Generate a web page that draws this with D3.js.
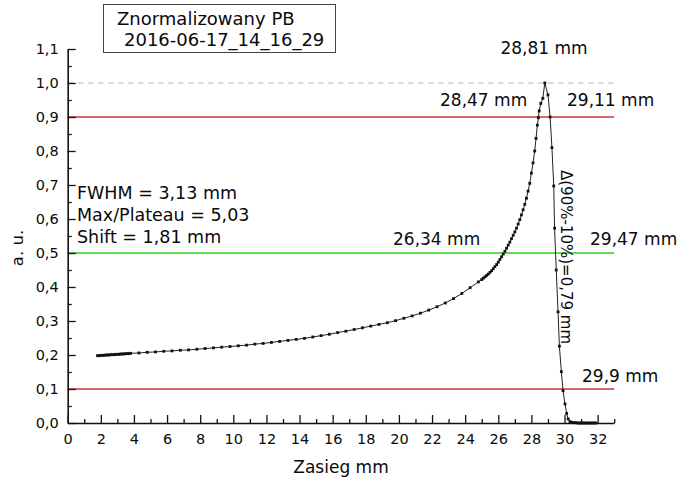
<!DOCTYPE html>
<html><head><meta charset="utf-8">
<script src="https://cdn.jsdelivr.net/npm/d3@7"></script>
<style>
body{margin:0;background:#fff}
svg{display:block}
text{font-family:"DejaVu Sans",sans-serif;fill:#0a0a0a}
</style>
</head><body>
<svg id="c" width="680" height="478"></svg>
<script>
// ---- data ----
const depthMm = [
  1.8,1.9,2.0,2.1,2.2,2.3,2.4,2.5,2.6,2.7,2.8,2.9,3.0,3.1,3.2,3.3,3.4,3.5,3.6,3.7,3.8,
  4.3,4.8,5.3,5.8,6.3,6.8,7.3,7.8,8.3,8.8,9.3,9.8,10.3,10.8,11.3,11.8,12.3,12.8,13.3,13.8,
  14.3,14.8,15.3,15.8,16.3,16.8,17.3,17.8,18.3,18.8,19.3,19.8,20.3,20.8,21.3,21.8,22.3,22.8,
  23.3,23.8,24.3,24.8,
  25.0,25.1,25.2,25.3,25.4,25.5,25.6,25.7,25.8,25.9,26.0,26.1,26.2,26.3,26.4,26.5,26.6,26.7,
  26.8,26.9,27.0,27.1,27.2,27.3,27.4,27.5,27.6,27.7,27.8,27.9,28.0,28.1,28.2,28.28,28.36,
  28.42,28.47,28.57,28.69,28.81,29.0,29.13,29.24,29.35,29.4,29.5,29.61,29.69,29.81,29.91,
  30.03,30.13,30.22,30.33,30.45,30.6,30.7,30.8,30.9,31.0,31.1,31.2,31.3,31.4,31.5,31.6,31.7,31.8,31.9
];
const doseAU = [
  0.198,0.198,0.199,0.199,0.199,0.200,0.200,0.200,0.201,0.201,0.201,0.202,0.202,0.202,0.203,0.203,0.203,0.204,0.204,0.204,0.205,
  0.206,0.208,0.209,0.211,0.212,0.214,0.215,0.217,0.219,0.221,0.223,0.225,0.227,0.229,0.232,0.234,0.237,0.240,0.243,0.246,
  0.249,0.253,0.257,0.261,0.266,0.270,0.275,0.280,0.285,0.290,0.295,0.301,0.308,0.315,0.323,0.332,0.342,0.353,
  0.366,0.381,0.398,0.415,
  0.422,0.426,0.430,0.434,0.438,0.443,0.448,0.454,0.460,0.466,0.473,0.481,0.489,0.497,0.505,0.514,0.523,0.532,
  0.542,0.552,0.562,0.573,0.585,0.598,0.612,0.627,0.643,0.661,0.682,0.705,0.735,0.765,0.800,0.837,0.876,
  0.898,0.918,0.940,0.955,1.000,0.965,0.900,0.810,0.697,0.573,0.450,0.327,0.226,0.151,0.095,
  0.056,0.028,0.012,0.004,0.002,0.001,0.001,0.000,0.000,0.000,0.000,0.000,0.000,0.000,0.000,0.000,0.000,0.000,0.000
];
const refLevels = [1.0, 0.9, 0.5, 0.1];
const xTicks = [0,2,4,6,8,10,12,14,16,18,20,22,24,26,28,30,32];
const xMinorTicks = [1,3,5,7,9,11,13,15,17,19,21,23,25,27,29,31,33];
const yTicks = [0,0.1,0.2,0.3,0.4,0.5,0.6,0.7,0.8,0.9,1.0,1.1];
const yMinorTicks = [0.05,0.15,0.25,0.35,0.45,0.55,0.65,0.75,0.85,0.95,1.05];
const titleLines = ["Znormalizowany PB", "2016-06-17_14_16_29"];
const statsLines = ["FWHM = 3,13 mm", "Max/Plateau = 5,03", "Shift = 1,81 mm"];
const markLabels = ["28,81 mm","28,47 mm","29,11 mm","26,34 mm","29,47 mm","29,9 mm"];
const deltaLabel = "\u0394(90%-10%)=0,79 mm";
const xTitle = "Zasieg mm", yTitle = "a. u.";

// ---- drawing ----
const svg = d3.select("#c");
const x = d3.scaleLinear().domain([0,33]).range([67.7,614.2]);
const y = d3.scaleLinear().domain([0,1.1]).range([423,49]);
const comma = d => d3.format(".1f")(d).replace(".", ",");

// reference lines
const refStyle = [
  {stroke:"#b8b8b8", w:1.2, dash:"6,4"},
  {stroke:"#c83a3a", w:1.3, dash:null},
  {stroke:"#62dc58", w:2, dash:null},
  {stroke:"#d86464", w:1.8, dash:null}
];
svg.append("g").selectAll("line").data(refLevels).join("line")
  .attr("x1", x(0)).attr("x2", x(33))
  .attr("y1", d => y(d)).attr("y2", d => y(d))
  .attr("stroke", (d,i) => refStyle[i].stroke)
  .attr("stroke-width", (d,i) => refStyle[i].w)
  .attr("stroke-dasharray", (d,i) => refStyle[i].dash);

// axes
function styleAxis(g){
  g.selectAll("path.domain").attr("stroke","#111").attr("stroke-width",1.6);
  g.selectAll(".tick line").attr("stroke","#111").attr("stroke-width",1.3);
  g.selectAll("text").style("font-size","14.5px").attr("fill","#0a0a0a")
    .style("font-family","'DejaVu Sans',sans-serif");
}
svg.append("g").attr("transform","translate(0,423)")
  .call(d3.axisBottom(x).tickValues(xMinorTicks).tickSize(-4).tickSizeOuter(0).tickFormat(""))
  .call(g => g.select(".domain").remove()).call(styleAxis);
svg.append("g").attr("transform","translate(0,423)")
  .call(d3.axisBottom(x).tickValues(xTicks).tickSize(-8).tickSizeOuter(0).tickPadding(11).tickFormat(d => d))
  .call(styleAxis);
svg.append("g").attr("transform","translate(67.7,0)")
  .call(d3.axisLeft(y).tickValues(yMinorTicks).tickSize(-4).tickSizeOuter(0).tickFormat(""))
  .call(g => g.select(".domain").remove()).call(styleAxis);
svg.append("g").attr("transform","translate(67.7,0)")
  .call(d3.axisLeft(y).tickValues(yTicks).tickSize(-8).tickSizeOuter(0).tickPadding(9).tickFormat(comma))
  .call(styleAxis);

// curve
const pts = depthMm.map((d,i) => [d, doseAU[i]]);
svg.append("path").datum(pts)
  .attr("fill","none").attr("stroke","#222").attr("stroke-width",1)
  .attr("d", d3.line().x(d => x(d[0])).y(d => y(d[1])));
svg.append("g").selectAll("rect").data(pts).join("rect")
  .attr("x", d => x(d[0]) - 1.4).attr("y", d => y(d[1]) - 1.4)
  .attr("width", 2.8).attr("height", 2.8).attr("fill","#111");

// axis titles
svg.append("text").attr("x", 341).attr("y", 473).attr("text-anchor","middle")
  .style("font-size","17px").text(xTitle);
svg.append("text").attr("transform","translate(23,248) rotate(-90)").attr("text-anchor","middle")
  .style("font-size","16.5px").text(yTitle);

// title box
svg.append("rect").attr("x",103.5).attr("y",4.5).attr("width",232).attr("height",48)
  .attr("fill","#fff").attr("stroke","#444").attr("stroke-width",1);
svg.append("text").attr("x",117).attr("y",25).style("font-size","18px").text(titleLines[0]);
svg.append("text").attr("x",124).attr("y",46).style("font-size","18px").text(titleLines[1]);

// stats
statsLines.forEach((t,i) => {
  svg.append("text").attr("x",77).attr("y",199 + i*22).style("font-size","17.5px").text(t);
});

// marker labels
const labelPos = [[544,54,"middle"],[440,106,"start"],[567,106,"start"],[393,245,"start"],[590,245,"start"],[582,382,"start"]];
markLabels.forEach((t,i) => {
  svg.append("text").attr("x",labelPos[i][0]).attr("y",labelPos[i][1])
    .attr("text-anchor",labelPos[i][2]).style("font-size","17px").text(t);
});
svg.append("text").attr("transform","translate(561,170) rotate(90)")
  .style("font-size","15px").text(deltaLabel);
</script>
</body></html>
